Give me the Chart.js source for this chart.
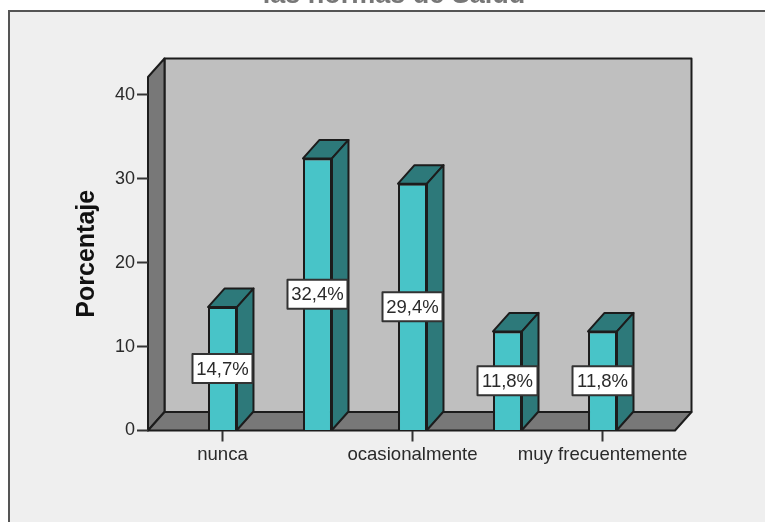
<!DOCTYPE html>
<html>
<head>
<meta charset="utf-8">
<script src="https://cdn.jsdelivr.net/npm/chart.js@4"></script>
<style>
  body { margin: 0; background: #fff; }
  #chart { display: block; filter: blur(0.4px); }
</style>
</head>
<body>
<canvas id="chart" width="765" height="522"></canvas>
<script>
// two categories have no visible label in the picture
const categories = ['nunca', '', 'ocasionalmente', '', 'muy frecuentemente'];
const porcentajes = [14.7, 32.4, 29.4, 11.8, 11.8];
const chartTitle = 'las normas de Salud';
const yAxisTitle = 'Porcentaje';

const DEPTH_X = 16.5;
const DEPTH_Y = 18.5;
const LINE = '#1c1c1c';
const TEXT = '#2a2a2a';
const FONT = '"Liberation Sans", Arial, sans-serif';

function poly(ctx, pts, fill) {
  ctx.beginPath();
  ctx.moveTo(pts[0][0], pts[0][1]);
  for (let i = 1; i < pts.length; i++) ctx.lineTo(pts[i][0], pts[i][1]);
  ctx.closePath();
  ctx.fillStyle = fill;
  ctx.fill();
  ctx.stroke();
}

// frame, cut off title and the walls of the 3d box
const boxPlugin = {
  id: 'box',
  beforeDraw(chart) {
    const ctx = chart.ctx;
    const a = chart.chartArea;
    ctx.save();
    ctx.fillStyle = '#fff';
    ctx.fillRect(0, 0, chart.width, chart.height);
    ctx.fillStyle = '#efefef';
    ctx.fillRect(9, 11, chart.width, chart.height);
    ctx.strokeStyle = '#555';
    ctx.lineWidth = 2;
    ctx.beginPath();
    ctx.moveTo(9, chart.height);
    ctx.lineTo(9, 11);
    ctx.lineTo(chart.width, 11);
    ctx.stroke();

    ctx.fillStyle = '#777';
    ctx.font = 'bold 27px ' + FONT;
    ctx.textAlign = 'center';
    ctx.textBaseline = 'alphabetic';
    ctx.fillText(chartTitle, 394, 3);

    ctx.strokeStyle = LINE;
    ctx.lineWidth = 2;
    ctx.lineJoin = 'round';
    const backL = a.left + DEPTH_X, backR = a.right + DEPTH_X;
    const backT = a.top - DEPTH_Y, backB = a.bottom - DEPTH_Y;
    poly(ctx, [[backL, backT], [backR, backT], [backR, backB], [backL, backB]], '#bfbfbf');
    poly(ctx, [[a.left, a.top], [backL, backT], [backL, backB], [a.left, a.bottom]], '#787878');
    poly(ctx, [[a.left, a.bottom], [backL, backB], [backR, backB], [a.right, a.bottom]], '#787878');
    ctx.restore();
  },
  afterDatasetsDraw(chart) {
    const ctx = chart.ctx;
    const bars = chart.getDatasetMeta(0).data;
    ctx.save();
    ctx.strokeStyle = LINE;
    ctx.lineWidth = 2;
    ctx.lineJoin = 'round';
    bars.forEach(function (bar) {
      const l = bar.x - bar.width / 2, r = bar.x + bar.width / 2;
      poly(ctx, [[l, bar.y], [l + DEPTH_X, bar.y - DEPTH_Y], [r + DEPTH_X, bar.y - DEPTH_Y], [r, bar.y]], '#2d797a');
      poly(ctx, [[r, bar.y], [r + DEPTH_X, bar.y - DEPTH_Y], [r + DEPTH_X, bar.base - DEPTH_Y], [r, bar.base]], '#2d797a');
    });
    // value labels
    ctx.font = '18.5px ' + FONT;
    ctx.textAlign = 'center';
    ctx.textBaseline = 'middle';
    bars.forEach(function (bar, i) {
      const cy = (bar.y + bar.base) / 2;
      ctx.fillStyle = '#fff';
      ctx.strokeStyle = '#333';
      ctx.lineWidth = 2;
      ctx.fillRect(bar.x - 30, cy - 14.5, 60, 29);
      ctx.strokeRect(bar.x - 30, cy - 14.5, 60, 29);
      ctx.fillStyle = TEXT;
      ctx.fillText(porcentajes[i].toFixed(1).replace('.', ',') + '%', bar.x, cy + 1);
    });
    ctx.restore();
  }
};

new Chart(document.getElementById('chart'), {
  type: 'bar',
  plugins: [boxPlugin],
  data: {
    datasets: [{
      data: porcentajes.map((v, i) => ({ x: i, y: v })),
      backgroundColor: '#48c4c8',
      borderColor: LINE,
      borderWidth: 2,
      barPercentage: 0.305,
      categoryPercentage: 1
    }]
  },
  options: {
    responsive: false,
    animation: false,
    layout: { padding: { top: 77, right: 90, left: 0, bottom: 0 } },
    plugins: { legend: { display: false }, tooltip: { enabled: false }, title: { display: false } },
    scales: {
      x: {
        type: 'linear',
        offset: false,
        min: -0.784,
        max: 4.763,
        afterFit(scale) { scale.height = 91.5; },
        grid: { offset: false, drawOnChartArea: false, tickLength: 11, tickColor: '#333', tickWidth: 2 },
        border: { display: false },
        ticks: {
          stepSize: 2,
          includeBounds: false,
          autoSkip: false,
          maxRotation: 0,
          padding: 2,
          color: TEXT,
          font: { family: FONT, size: 18.6 },
          callback: (v) => categories[v]
        }
      },
      y: {
        min: 0,
        max: 42.1,
        afterFit(scale) { scale.width = 148; },
        grid: { drawOnChartArea: false, tickLength: 11, tickColor: '#333', tickWidth: 2 },
        border: { display: false },
        title: {
          display: true,
          text: yAxisTitle,
          color: '#111',
          font: { family: FONT, size: 25, weight: 'bold' },
          padding: { top: 72, bottom: 0 }
        },
        ticks: {
          stepSize: 10,
          includeBounds: false,
          padding: 2,
          color: TEXT,
          font: { family: FONT, size: 18 }
        }
      }
    }
  }
});
</script>
</body>
</html>
